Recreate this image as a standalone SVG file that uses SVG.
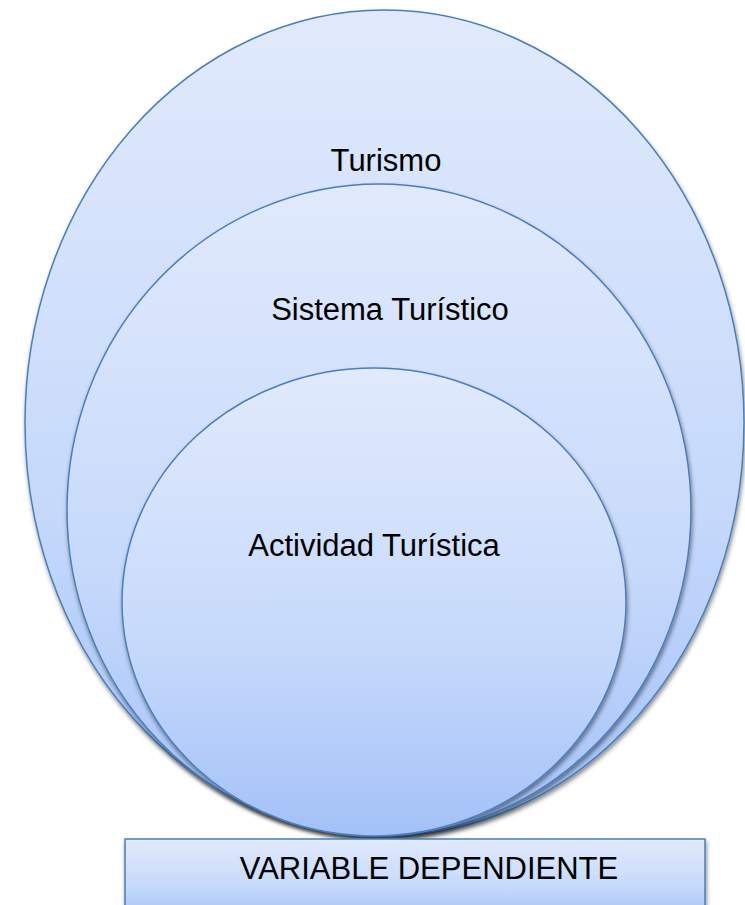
<svg xmlns="http://www.w3.org/2000/svg" width="745" height="905" viewBox="0 0 745 905">
<style>
.shape{stroke:#4a7ebb;stroke-width:1.5;fill:url(#g)}
.lbl{font-family:"Liberation Sans",Arial,sans-serif;font-size:31px;fill:#000;text-anchor:middle}
</style>
<defs>
<linearGradient id="g" x1="0" y1="0" x2="0" y2="1">
<stop offset="0" stop-color="#e1eafc"/>
<stop offset="0.6" stop-color="#c6d9fb"/>
<stop offset="1" stop-color="#a3c1f8"/>
</linearGradient>
<filter id="sh" x="-5%" y="-5%" width="112%" height="112%">
<feDropShadow dx="1" dy="3" stdDeviation="2" flood-color="#000" flood-opacity="0.45"/>
</filter>
</defs>
<rect width="745" height="905" fill="#fff"/>
<g id="turismo">
<ellipse class="shape" cx="384.5" cy="423" rx="359.5" ry="413" filter="url(#sh)"/>
<text class="lbl" x="386" y="171">Turismo</text>
</g>
<g id="sistema">
<ellipse class="shape" cx="379" cy="510" rx="312" ry="326" filter="url(#sh)"/>
<text class="lbl" x="390" y="320">Sistema Turístico</text>
</g>
<g id="actividad">
<ellipse class="shape" cx="374" cy="602" rx="252" ry="234" filter="url(#sh)"/>
<text class="lbl" x="374" y="556">Actividad Turística</text>
</g>
<g id="variable">
<rect class="shape" x="125" y="839" width="580" height="80" filter="url(#sh)"/>
<text class="lbl" x="429" y="879">VARIABLE DEPENDIENTE</text>
</g>
<g id="connectors"/>
</svg>
